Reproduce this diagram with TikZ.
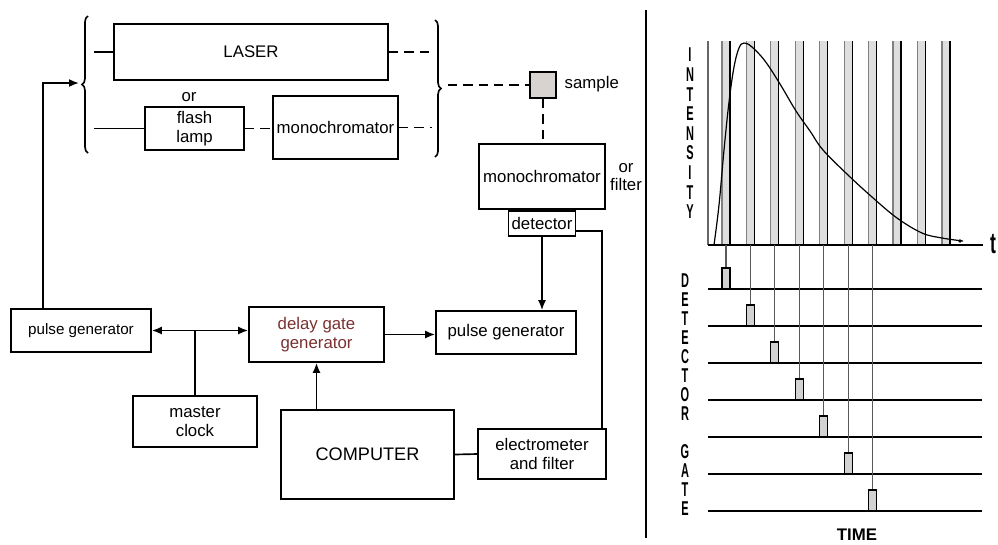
\documentclass[tikz,border=0pt]{standalone}
\usepackage{fontspec}
\setmainfont{Liberation Sans}
\usetikzlibrary{arrows.meta, positioning, decorations.pathreplacing}

\definecolor{delayred}{HTML}{7A3030}
\definecolor{samplegray}{HTML}{D6D3D0}
\definecolor{bargray}{HTML}{DEDEDE}
\definecolor{gatefill}{HTML}{D2D2D2}
\newcommand{\slim}[2][0.55]{\scalebox{#1}[1]{#2}}

\begin{document}
\begin{tikzpicture}[
    x=0.75pt, y=-0.75pt,
    font=\fontsize{12.6}{14}\selectfont,
    block/.style={draw, line width=1.25pt, inner sep=0pt, align=center},
    link/.style={line width=1.25pt},
    arr/.style={-{Latex[length=7.5pt, width=6pt]}, line width=1.25pt},
    darr/.style={{Latex[length=7.5pt, width=6pt]}-{Latex[length=7.5pt, width=6pt]}, line width=1.25pt},
    beam/.style={line width=1.25pt, dash pattern=on 7pt off 4.5pt},
    curly/.style={line width=1.25pt, decorate, decoration={brace, amplitude=4.5pt}},
    letter/.style={inner sep=0pt, font=\fontsize{15}{15}\selectfont\bfseries},
    trace/.style={line width=0.9pt}
]
\useasboundingbox (0,0) rectangle (998,544);

% optical part
\node[block, minimum width=205.5pt, minimum height=42pt] (laser) at (251,52) {LASER};
\node[block, minimum width=74.25pt, minimum height=32.25pt] (lamp) at (194.5,128.5) {flash\\lamp};
\node[block, minimum width=93.75pt, minimum height=47.25pt] (monoA) at (335.5,127.5) {monochromator};
\node (orA) at (189,97) {or};
\node[block, minimum width=19.5pt, minimum height=19.5pt, fill=samplegray] (sample) at (543,85) {};
\node[anchor=west] (samplelab) at (560,84) {sample};
\node[block, minimum width=94.5pt, minimum height=48.75pt] (monoB) at (542,176.5) {monochromator};
\node[block, minimum width=50.25pt, minimum height=18.75pt, below=0pt of monoB] (det) {detector};
\node[align=center] (orB) at (626,177) {or\\filter};

\coordinate (bl) at (79,83);
\coordinate (bi) at (94,84);
\coordinate (bo) at (432,86);
\coordinate (br) at (448,85);
\draw[curly] (88,153) -- (88,16);
\draw[curly] (435,20) -- (435,157);

% electronics
\node[block, minimum width=105pt, minimum height=32.25pt, font=\fontsize{11.4}{13}\selectfont] (pgL) at (81,330.5) {pulse generator};
\node[block, minimum width=101.25pt, minimum height=41.25pt, text=delayred] (delay) at (316.5,334.5) {delay gate\\generator};
\node[block, minimum width=105pt, minimum height=32.25pt] (pgR) at (506,332.5) {pulse generator};
\node[block, minimum width=93pt, minimum height=38.25pt] (clock) at (195,421.5) {master\\clock};
\node[block, minimum width=129.75pt, minimum height=66.75pt, font=\fontsize{13.6}{15}\selectfont] (comp) at (367.5,454.5) {COMPUTER};
\node[block, minimum width=96pt, minimum height=37.5pt] (elec) at (542,454) {electrometer\\and filter};

\draw[link] (laser.west) -- (laser.west -| bi);
\draw[link] (lamp.west) -- (lamp.west -| bi);
\draw[beam] (lamp.east) -- (lamp.east -| monoA.west);
\draw[beam] (laser.east) -- (laser.east -| bo);
\draw[beam] (monoA.east) -- (monoA.east -| bo);
\draw[beam] (br) -- (sample.west);
\draw[beam] (sample.south) -- (sample.south |- monoB.north);
\draw[arr] (det.south) -- (det.south |- pgR.north);
\draw[link] ([yshift=-6pt]det.east) -| ([xshift=-3.75pt]elec.north east);
\draw[arr] ([xshift=24.75pt]pgL.north west) |- (bl);
\draw[darr] (pgL.east) -- (pgL.east -| delay.west);
\draw[link] (clock.north) -- (clock.north |- pgL.east);
\draw[arr] (comp.north -| delay.south) -- (delay.south);
\draw[arr] (delay.east) -- (delay.east -| pgR.west);
\draw[link] (comp.east) -- (elec.west);

% divider
\draw[link] (646,10) -- (646,538);

% intensity decay with gate windows
\foreach \k in {0,...,9} {
  \fill[bargray] (722+24.44*\k,41) rectangle ++(8,204);
  \draw[trace, gray] (722+24.44*\k,41) -- ++(0,204);
  \draw[trace] (730+24.44*\k,41) -- ++(0,204);
}
\draw[trace, gray!80!black] (708,41) -- (708,245);
\draw[trace] (708,245) -- (983,245);
\draw[trace] plot[smooth, tension=0.6] coordinates {(714,245) (719,205) (724,150) (729,102) (734,67) (739,48) (744,43) (752,47) (765,61) (780,84) (796,111) (810,131) (823,150) (848,175) (872,197) (897,218) (922,233) (942,238) (963,241)};
\fill (960,241) circle (1.8);
\node[letter, font=\fontsize{22}{22}\selectfont\bfseries] (tlab) at (993,244) {\slim[0.6]{t}};
\foreach \ch [count=\i from 0] in {I,N,T,E,N,S,I,T,Y}
  \node[letter] (int\i) at (690,55+19.6*\i) {\slim{\ch}};

% detector gate pulses
\foreach \k in {0,...,6} {
  \draw[trace] (708,289+37*\k) -- (982,289+37*\k);
  \draw[trace, gray!70!black] (726+24.44*\k,245) -- (726+24.44*\k,268+37*\k);
  \draw[trace, fill=gatefill] (722+24.44*\k,268+37*\k) rectangle ++(8,21);
}
\foreach \ch [count=\i from 0] in {D,E,T,E,C,T,O,R}
  \node[letter] (det\i) at (685,281+19*\i) {\slim{\ch}};
\foreach \ch [count=\i from 0] in {G,A,T,E}
  \node[letter] (gate\i) at (685,452+19*\i) {\slim{\ch}};
\node[font=\fontsize{12.6}{14}\selectfont\bfseries] (time) at (857,535) {TIME};
\end{tikzpicture}
\end{document}
